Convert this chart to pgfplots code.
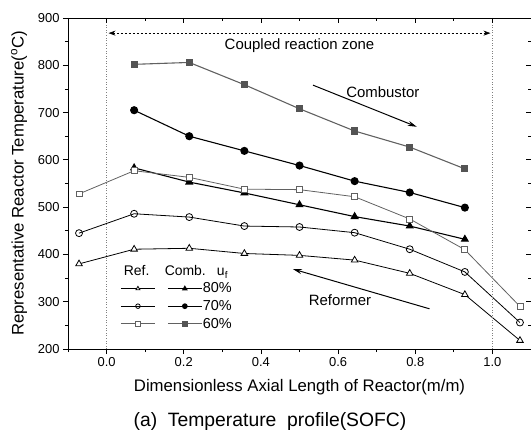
\documentclass[border=0pt]{standalone}
\usepackage{fontspec}
\setmainfont{Liberation Sans}
\usepackage{pgfplots}
\pgfplotsset{compat=1.18}
\usetikzlibrary{arrows.meta}
\definecolor{g60}{gray}{0.38}
\definecolor{gfill}{gray}{0.33}
\begin{document}
\begin{tikzpicture}
\useasboundingbox (-68bp,-84bp) rectangle (463bp,349bp);
\begin{axis}[
  name=ax,
  scale only axis, width=463bp, height=331bp,
  xmin=-0.1, xmax=1.1, ymin=200, ymax=900,
  axis x line*=bottom, axis y line*=left,
  tick align=outside,
  xtick={0,0.2,0.4,0.6,0.8,1.0},
  minor xtick={-0.1,0.1,0.3,0.5,0.7,0.9},
  ytick={200,300,...,900},
  minor ytick={250,350,...,850},
  major tick length=5bp, minor tick length=3bp,
  tick style={line width=0.8pt,black},
  axis line style={line width=1pt},
  x tick label style={/pgf/number format/.cd,fixed,fixed zerofill,precision=1},
  /pgf/number format/assume math mode=true,
  ticklabel style={font=\fontsize{13}{15}\selectfont},
  xlabel={Dimensionless Axial Length of Reactor(m/m)},
  ylabel={Representative Reactor Temperature(\textsuperscript{o}C)},
  label style={font=\fontsize{16.8}{19}\selectfont},
  xlabel style={yshift=-6bp},
  ylabel style={yshift=4bp},
  legend columns=2,
  legend style={draw=none, fill=none, at={(axis description cs:0.113,0.202)}, anchor=north west,
    font=\fontsize{14.5}{16}\selectfont, row sep=5pt, inner sep=0pt,
    nodes={inner sep=0.5pt},
    /tikz/every even column/.append style={column sep=11pt}},
  legend image code/.code={\draw[mark repeat=2,mark phase=2,mark size=2.3pt] plot coordinates {(0cm,0cm) (0.6cm,0cm) (1.2cm,0cm)};},
  clip=false,
]
% Ref 80
\addplot[black, line width=0.8pt, mark=triangle*, mark size=3.8pt, mark options={fill=white}] coordinates {
(-0.0714,380) (0.0714,411) (0.2143,413) (0.3571,402) (0.5,398) (0.6429,388) (0.7857,360) (0.9286,315) (1.0714,218)};
\addlegendentry{}
% Comb 80
\addplot[black, line width=1.1pt, mark=triangle*, mark size=3.8pt, mark options={fill=black}] coordinates {
(0.0714,583) (0.2143,553) (0.3571,530) (0.5,505) (0.6429,480) (0.7857,460) (0.9286,432)};
\addlegendentry{80\%}
% Ref 70
\addplot[black, line width=0.8pt, mark=o, mark size=3.5pt, mark options={fill=white}] coordinates {
(-0.0714,445) (0.0714,486) (0.2143,479) (0.3571,460) (0.5,458) (0.6429,446) (0.7857,411) (0.9286,363) (1.0714,256)};
\addlegendentry{}
% Comb 70
\addplot[black, line width=1.1pt, mark=*, mark size=3.5pt] coordinates {
(0.0714,705) (0.2143,650) (0.3571,619) (0.5,588) (0.6429,555) (0.7857,531) (0.9286,499)};
\addlegendentry{70\%}
% Ref 60
\addplot[g60, line width=0.8pt, mark=square*, mark size=3pt, mark options={fill=white}] coordinates {
(-0.0714,528) (0.0714,577) (0.2143,563) (0.3571,538) (0.5,537) (0.6429,522) (0.7857,475) (0.9286,410) (1.0714,290)};
\addlegendentry{}
% Comb 60
\addplot[g60, line width=1.1pt, mark=square*, mark size=3pt, mark options={fill=gfill, draw=gfill}] coordinates {
(0.0714,802) (0.2143,806) (0.3571,759) (0.5,708) (0.6429,661) (0.7857,627) (0.9286,581)};
\addlegendentry{60\%}

\draw[gray, dotted, line width=0.6pt] (axis cs:0,200) -- (axis cs:0,900);
\draw[gray, dotted, line width=0.6pt] (axis cs:1,200) -- (axis cs:1,900);
\draw[black, dashed, dash pattern=on 2pt off 2pt, line width=0.5pt, {Stealth[length=7pt,width=5pt]}-{Stealth[length=7pt,width=5pt]}] (axis cs:0.005,868) -- (axis cs:0.995,868);
\node[font=\fontsize{15}{17}\selectfont, anchor=north] at (axis cs:0.5,863) {Coupled reaction zone};
\draw[black, line width=1pt, -{Stealth[length=9pt,width=5pt]}] (axis cs:0.535,758) -- (axis cs:0.804,670);
\node[font=\fontsize{15}{17}\selectfont] at (axis cs:0.716,744) {Combustor};
\draw[black, line width=1pt, -{Stealth[length=9pt,width=5pt]}] (axis cs:0.837,285) -- (axis cs:0.483,369);
\node[font=\fontsize{15}{17}\selectfont] at (axis cs:0.605,304) {Reformer};
\node[font=\fontsize{14}{16}\selectfont, anchor=west] at (axis description cs:0.113,0.233) {Ref.\hspace{1.1em}Comb.\hspace{0.8em}u\textsubscript{f}};
\end{axis}
\begin{axis}[
  scale only axis, width=463bp, height=331bp,
  xmin=-0.1, xmax=1.1, ymin=200, ymax=900,
  axis x line*=top, axis y line*=right,
  tick align=inside,
  xtick={0,0.2,0.4,0.6,0.8,1.0},
  minor xtick={-0.1,0.1,0.3,0.5,0.7,0.9},
  ytick={200,300,...,900},
  minor ytick={250,350,...,850},
  major tick length=5bp, minor tick length=3bp,
  tick style={line width=0.8pt,black},
  axis line style={line width=1pt},
  xticklabels={}, yticklabels={},
]
\end{axis}
\node[font=\fontsize{19.4}{23}\selectfont] at (202bp,-73bp) {(a)\ \ Temperature\ \ profile(SOFC)};
\end{tikzpicture}
\end{document}
